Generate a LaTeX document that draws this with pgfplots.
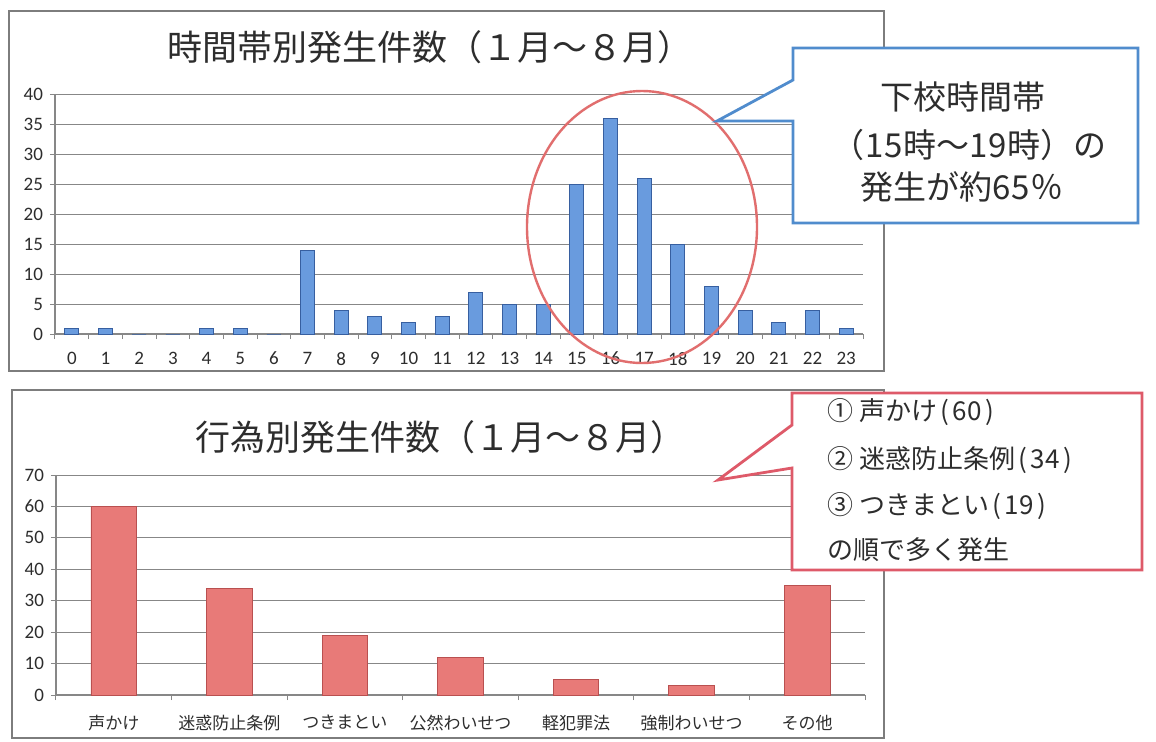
\documentclass[border=0pt]{standalone}
\usepackage{fontspec}
\setmainfont{Carlito}
\newfontfamily\jp{Noto Sans CJK JP}
\usepackage{pgfplots}
\pgfplotsset{compat=1.18}

\definecolor{barblue}{RGB}{105,155,222}
\definecolor{barblueedge}{RGB}{55,95,160}
\definecolor{barred}{RGB}{232,122,120}
\definecolor{barrededge}{RGB}{185,80,80}
\definecolor{gridgray}{RGB}{135,135,135}
\definecolor{framegray}{RGB}{125,125,125}
\definecolor{calloutblue}{RGB}{80,140,205}
\definecolor{calloutred}{RGB}{222,90,105}
\definecolor{ellred}{RGB}{225,110,110}
\definecolor{txt}{RGB}{45,45,45}

\newcommand{\hw}[1]{\makebox[0.58em]{#1}}

\pgfplotsset{excelbar/.style={
  scale only axis, anchor=south west,
  axis x line*=bottom, axis y line*=left,
  axis line style={gridgray, line width=0.6pt},
  ymajorgrids, grid style={gridgray, line width=0.5pt},
  tick align=outside,
  major tick length=2.5pt,
  tick style={gridgray, line width=0.5pt},
  ymin=0,
  ticklabel style={font=\fontsize{9.5}{11}\selectfont, text=txt},
  /pgf/number format/assume math mode=true,
  x tick label as interval,
  ybar,
}}

\begin{document}
\begin{tikzpicture}
\begin{scope}[x=0.5pt,y=0.5pt]
\useasboundingbox (0,0) rectangle (1156,741);
\fill[white] (0,0) rectangle (1156,741);
\draw[framegray, line width=0.7pt] (9,730) rectangle (884,370);
\draw[framegray, line width=0.7pt] (12,351) rectangle (884,3);
\node[font=\jp\fontsize{17.5}{21}\selectfont, text=txt] at (430,694) {時間帯別発生件数（１月～８月）};
\node[font=\jp\fontsize{17.5}{21}\selectfont, text=txt] at (440,304) {行為別発生件数（１月～８月）};
\end{scope}

\begin{axis}[excelbar, at={(27.5pt,203.5pt)}, width=404pt, height=120pt,
  xmin=-0.5, xmax=23.5, ymax=40, ytick={0,5,...,40},
  xtick={-0.5,0.5,...,23.5},
  xticklabels={0,1,2,3,4,5,6,7,8,9,10,11,12,13,14,15,16,17,18,19,20,21,22,23},
  xticklabel style={yshift=-3pt},
  bar width=7pt]
\addplot[fill=barblue, draw=barblueedge, line width=0.4pt] coordinates {
(0,1) (1,1) (2,0) (3,0) (4,1) (5,1) (6,0) (7,14) (8,4) (9,3) (10,2) (11,3)
(12,7) (13,5) (14,5) (15,25) (16,36) (17,26) (18,15) (19,8) (20,4) (21,2) (22,4) (23,1)};
\end{axis}

\begin{axis}[excelbar, at={(28pt,23pt)}, width=404.5pt, height=110pt,
  xmin=-0.5, xmax=6.5, ymax=70, ytick={0,10,...,70},
  xtick={-0.5,0.5,...,6.5},
  xticklabels={声かけ,迷惑防止条例,つきまとい,公然わいせつ,軽犯罪法,強制わいせつ,その他},
  xticklabel style={font=\jp\fontsize{8.5}{10}\selectfont, text=txt, yshift=-4pt},
  bar width=22.8pt]
\addplot[fill=barred, draw=barrededge, line width=0.4pt] coordinates {
(0,60) (1,34) (2,19) (3,12) (4,5) (5,3) (6,35)};
\end{axis}

\begin{scope}[x=0.5pt,y=0.5pt]
\draw[ellred, line width=1.2pt] (642,514) ellipse [x radius=57.5pt, y radius=68pt];

\draw[calloutblue, line width=1.4pt, fill=white, line join=miter]
  (793,693) -- (1138,693) -- (1138,518) -- (793,518) -- (793,620) -- (717,620) -- (793,661) -- cycle;
\node[font=\jp\fontsize{16.5}{20}\selectfont, text=txt] at (963,644) {下校時間帯};
\node[font=\jp\fontsize{16.5}{20}\selectfont, text=txt] at (969,596) {（\hw{1}\hw{5}時～\hw{1}\hw{9}時）の};
\node[font=\jp\fontsize{16.5}{20}\selectfont, text=txt] at (962,554) {発生が約\hw{6}\hw{5}％};

\draw[calloutred, line width=1.4pt, fill=white, line join=miter]
  (792,348) -- (1142,348) -- (1142,171) -- (792,171) -- (792,273) -- (718,261) -- (792,316) -- cycle;
\node[font=\jp\fontsize{13}{16}\selectfont, text=txt, anchor=west, inner sep=0pt] at (827,329) {① 声かけ\hw{(}\hw{6}\hw{0}\hw{)}};
\node[font=\jp\fontsize{13}{16}\selectfont, text=txt, anchor=west, inner sep=0pt] at (827,281) {② 迷惑防止条例\hw{(}\hw{3}\hw{4}\hw{)}};
\node[font=\jp\fontsize{13}{16}\selectfont, text=txt, anchor=west, inner sep=0pt] at (827,235) {③ つきまとい\hw{(}\hw{1}\hw{9}\hw{)}};
\node[font=\jp\fontsize{13}{16}\selectfont, text=txt, anchor=west, inner sep=0pt] at (827,191) {の順で多く発生};
\end{scope}
\end{tikzpicture}
\end{document}
